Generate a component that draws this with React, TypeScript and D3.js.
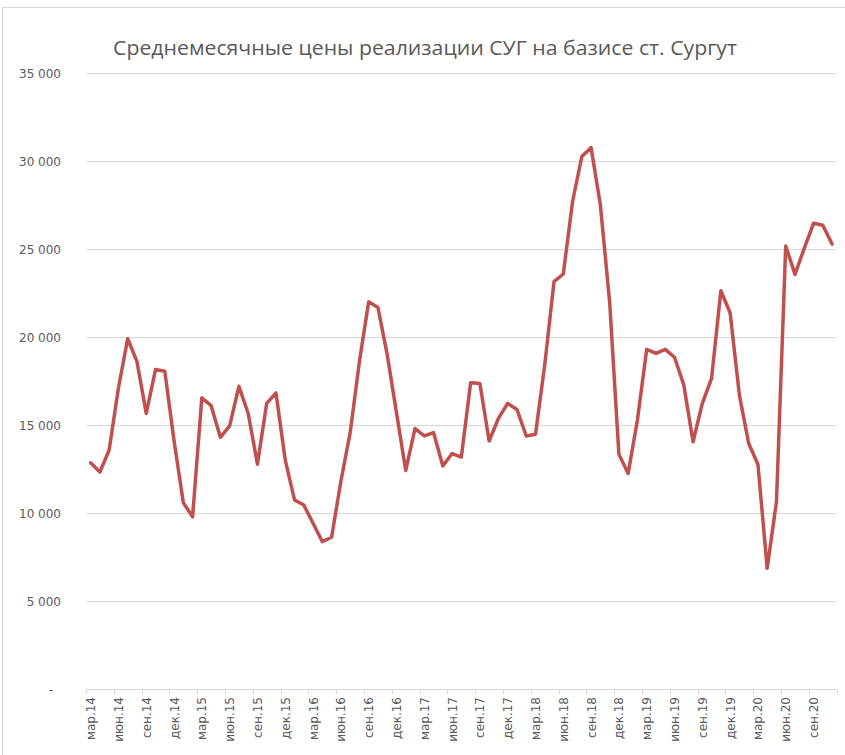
import React from "react";
import * as d3 from "d3";

const title = "Среднемесячные цены реализации СУГ на базисе ст. Сургут";

// 81 monthly categories: мар.14 … ноя.20
const monthNames = ["янв", "фев", "мар", "апр", "май", "июн", "июл", "авг", "сен", "окт", "ноя", "дек"];
const years = ["14", "15", "16", "17", "18", "19", "20"];
const categories: string[] = [];
years.forEach((y, yi) => {
  monthNames.forEach((m, mi) => {
    if (yi === 0 && mi < 2) return;
    if (yi === years.length - 1 && mi > 10) return;
    categories.push(`${m}.${y}`);
  });
});

const prices = [
  12850, 12330, 13580, 17100, 19900, 18600, 15660, 18150, 18050, 14100,
  10580, 9780, 16550, 16100, 14300, 14950, 17200, 15650, 12770, 16230,
  16820, 13000, 10740, 10450, 9420, 8370, 8620, 11800, 14550, 18600,
  22000, 21680, 19000, 15700, 12420, 14800, 14380, 14570, 12670, 13380,
  13180, 17400, 17360, 14090, 15380, 16230, 15880, 14380, 14470, 18420,
  23150, 23580, 27700, 30250, 30760, 27500, 22000, 13340, 12250, 15280,
  19300, 19070, 19300, 18850, 17280, 14050, 16230, 17650, 22630, 21380,
  16700, 13960, 12760, 6860, 10640, 25170, 23560, 25040, 26460, 26350,
  25280,
];

const yTicks = [0, 5000, 10000, 15000, 20000, 25000, 30000, 35000];
const yTickLabels = ["-", "5 000", "10 000", "15 000", "20 000", "25 000", "30 000", "35 000"];

const W = 845;
const H = 755;
const plotLeft = 86;
const plotRight = 836.7;
const plotTop = 73;
const plotBottom = 689;

export default function App() {
  const x = d3
    .scaleBand<number>()
    .domain(categories.map((_, i) => i))
    .range([plotLeft, plotRight])
    .padding(0);
  const bw = x.bandwidth();
  const y = d3.scaleLinear().domain([0, 35000]).range([plotBottom, plotTop]);

  const line = d3
    .line<number>()
    .x((_, i) => (x(i) as number) + bw / 2)
    .y((d) => y(d));

  const tickIdx = categories.map((_, i) => i).filter((i) => i % 3 === 0);
  const boundaryIdx = [...tickIdx, categories.length];

  const textColor = "#595959";
  const gridColor = "#d9d9d9";
  const font = "'DejaVu Sans', 'Liberation Sans', sans-serif";

  return (
    <svg
      width={W}
      height={H}
      style={{ position: "absolute", left: 0, top: 0, background: "#fff" }}
      fontFamily={font}
    >
      <rect x={0} y={0} width={W} height={H} fill="#fff" />
      <rect x={2.5} y={7.5} width={W + 10} height={H + 10} fill="none" stroke={gridColor} strokeWidth={1} />
      <text
        x={425}
        y={55}
        textAnchor="middle"
        fontSize={20}
        fill={textColor}
        textLength={624}
        lengthAdjust="spacingAndGlyphs"
        fontFamily="'Open Sans', 'DejaVu Sans', sans-serif"
      >
        {title}
      </text>
      {yTicks.map((t, i) => (
        <g key={t}>
          <line
            x1={plotLeft}
            x2={plotRight}
            y1={Math.round(y(t)) + 0.5}
            y2={Math.round(y(t)) + 0.5}
            stroke={gridColor}
            strokeWidth={1}
          />
          <text
            x={t === 0 ? 53 : 61}
            y={y(t) + 4.5}
            textAnchor="end"
            fontSize={12}
            fill={textColor}
          >
            {yTickLabels[i]}
          </text>
        </g>
      ))}
      {boundaryIdx.map((i) => {
        const bx = i < categories.length ? (x(i) as number) : plotRight;
        return (
          <line
            key={`tk${i}`}
            x1={Math.round(bx) + 0.5}
            x2={Math.round(bx) + 0.5}
            y1={plotBottom}
            y2={plotBottom + 5}
            stroke={gridColor}
            strokeWidth={1}
          />
        );
      })}
      {tickIdx.map((i) => {
        const cx = (x(i) as number) + bw / 2;
        return (
          <text
            key={`lb${i}`}
            transform={`translate(${cx + 4.5},${plotBottom + 8}) rotate(-90)`}
            textAnchor="end"
            fontSize={12}
            fill={textColor}
          >
            {categories[i]}
          </text>
        );
      })}
      <path
        d={line(prices) || ""}
        fill="none"
        stroke="#c0504d"
        strokeWidth={3.5}
        strokeLinejoin="round"
        strokeLinecap="round"
      />
    </svg>
  );
}
